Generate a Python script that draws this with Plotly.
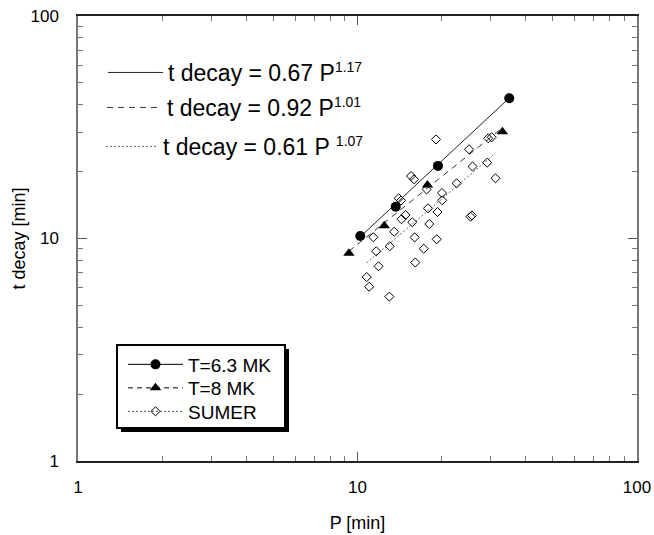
import plotly.graph_objects as go

# ---- data ----
p_63 = [10.23, 13.7, 19.4, 34.9]
t_63 = [10.27, 13.9, 21.2, 42.7]

p_8 = [9.32, 12.47, 17.8, 33.0]
t_8 = [8.58, 11.4, 17.4, 30.2]

p_sumer = [19.09, 25.06, 29.38, 30.2, 25.79, 29.11, 31.17, 15.54, 15.93, 22.64,
           17.68, 20.06, 20.09, 14.04, 14.31, 17.88, 19.33, 14.85, 14.37, 15.70,
           18.07, 25.37, 25.68, 13.53, 11.39, 16.02, 19.20, 13.04, 17.26, 11.67,
           11.89, 16.09, 10.79, 11.01, 13.00]
t_sumer = [27.87, 25.18, 28.2, 28.5, 21.07, 21.92, 18.65, 19.09, 18.45, 17.70,
           16.61, 16.02, 14.85, 15.16, 14.82, 13.67, 13.16, 12.75, 12.21, 11.84,
           11.62, 12.53, 12.69, 10.73, 10.13, 10.12, 9.92, 9.23, 9.00, 8.76,
           7.50, 7.80, 6.71, 6.07, 5.48]

# power-law fits  t = a * P^b, drawn over the data range of each set
fit_a = [0.67, 0.92, 0.61]
fit_b = [1.17, 1.01, 1.07]
fit_range = [[10.23, 34.9], [9.32, 33.0], [10.79, 31.17]]
fit_base = ["t decay = 0.67 P", "t decay = 0.92 P", "t decay = 0.61 P "]
fit_exp = ["1.17", "1.01", "1.07"]
fit_dash = ["solid", "6px,5px", "2px,2px"]
fit_color = ["#222222", "#333333", "#666666"]

series_names = ["T=6.3 MK", "T=8 MK", "SUMER"]

FONT = "Liberation Sans, Arial, Helvetica, sans-serif"

# target plot box in window pixels (page body margin removed below)
L, R, T, B = 78, 637, 16, 461
W, H = 654, 535
pw, ph = R - L, B - T


def px(x):
    return (x - L) / pw


def py(y):
    return (B - y) / ph


fig = go.Figure()

fit_legends = ["legend2", "legend3", "legend4"]
# fit lines (each with its own text legend)
for i in range(3):
    xs = fit_range[i]
    ys = [fit_a[i] * x ** fit_b[i] for x in xs]
    name = fit_base[i] + '<sup><span style="font-size:14px">' + fit_exp[i] + "</span></sup>"
    fig.add_trace(go.Scatter(
        x=xs, y=ys, mode="lines", name=name,
        line=dict(color=fit_color[i], width=1, dash=fit_dash[i]),
        legend=fit_legends[i], showlegend=True, hoverinfo="skip"))

# data markers
fig.add_trace(go.Scatter(x=p_sumer, y=t_sumer, mode="markers", showlegend=False,
                         marker=dict(symbol="diamond-open", size=7, color="black",
                                     line=dict(width=1, color="black"))))
fig.add_trace(go.Scatter(x=p_8, y=t_8, mode="markers", showlegend=False,
                         marker=dict(symbol="triangle-up", size=10, color="black")))
fig.add_trace(go.Scatter(x=p_63, y=t_63, mode="markers", showlegend=False,
                         marker=dict(symbol="circle", size=10, color="black")))

# legend entries for the marker legend (line + marker samples)
fig.add_trace(go.Scatter(x=[None], y=[None], mode="lines+markers", name=series_names[0],
                         line=dict(color="black", width=1),
                         marker=dict(symbol="circle", size=10, color="black"),
                         legend="legend"))
fig.add_trace(go.Scatter(x=[None], y=[None], mode="lines+markers", name=series_names[1],
                         line=dict(color="black", width=1, dash="5px,4px"),
                         marker=dict(symbol="triangle-up", size=10, color="black"),
                         legend="legend5"))
fig.add_trace(go.Scatter(x=[None], y=[None], mode="lines+markers", name=series_names[2],
                         line=dict(color="#555555", width=1, dash="2px,2px"),
                         marker=dict(symbol="diamond-open", size=7, color="black",
                                     line=dict(width=1, color="black")),
                         legend="legend6"))

axis_common = dict(
    type="log", range=[0, 2], dtick=1, automargin=False,
    showgrid=False, zeroline=False,
    showline=True, mirror="ticks", linewidth=1.5,
    ticks="inside", ticklen=9, tickwidth=1, tickcolor="#555555",
    minor=dict(ticks="inside", ticklen=5, tickwidth=1, tickcolor="#777777",
               tickvals=[2, 3, 4, 5, 6, 7, 8, 9, 20, 30, 40, 50, 60, 70, 80, 90],
               showgrid=False),
    tickfont=dict(family=FONT, size=17, color="black"),
    tickformat="d",
    ticklabeloverflow="allow",
)


def leg(xp, yp, size, iw):
    return dict(x=px(xp), y=py(yp), xanchor="left", yanchor="top",
                bgcolor="rgba(0,0,0,0)", borderwidth=0,
                font=dict(family=FONT, size=size, color="black"), itemwidth=iw)


fig.update_layout(
    width=W, height=H,
    margin=dict(l=L, r=W - R, t=T, b=H - B),
    paper_bgcolor="white", plot_bgcolor="white",
    font=dict(family=FONT, color="black"),
    xaxis=dict(axis_common, linecolor="#222222", ticklabelstandoff=10,
               title=dict(text="P [min]", font=dict(family=FONT, size=18), standoff=20)),
    yaxis=dict(axis_common, linecolor="#777777", ticklabelstandoff=14,
               title=dict(text="t decay [min]", font=dict(family=FONT, size=18), standoff=0)),
    legend=leg(123, 345.5, 19, 55),
    legend5=leg(123, 369, 19, 55),
    legend6=leg(123, 392.5, 19, 55),
    legend2=leg(103, 51, 23, 55),
    legend3=leg(102, 86, 23, 55),
    legend4=leg(101, 125, 23, 52),
    shapes=[
        dict(type="rect", xref="paper", yref="paper",
             x0=px(121), x1=px(289), y0=py(349), y1=py(432),
             fillcolor="black", line=dict(width=0), layer="above"),
        dict(type="rect", xref="paper", yref="paper",
             x0=px(117), x1=px(285), y0=py(345), y1=py(428),
             fillcolor="white", line=dict(width=2, color="black"), layer="above"),
    ],
)

fig.write_html(
    "out.html",
    config={"displayModeBar": False},
    post_script="document.body.style.margin='0';document.body.style.overflow='hidden';",
)
